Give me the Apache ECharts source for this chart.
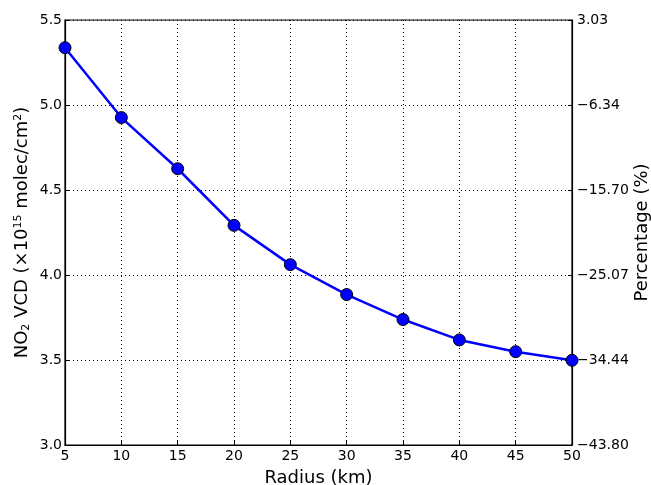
<!DOCTYPE html>
<html>
<head>
<meta charset="utf-8">
<script src="https://cdn.jsdelivr.net/npm/echarts@6/dist/echarts.min.js"></script>
<style>html,body{margin:0;padding:0;background:#fff}#c{width:651px;height:485px}</style>
</head>
<body>
<div id="c"></div>
<script>
const radius = [5, 10, 15, 20, 25, 30, 35, 40, 45, 50];
const vcd = [5.337, 4.926, 4.625, 4.292, 4.061, 3.885, 3.738, 3.618, 3.549, 3.498];
const leftTicks = ['3.0', '3.5', '4.0', '4.5', '5.0', '5.5'];
const rightTicks = ['\u221243.80', '\u221234.44', '\u221225.07', '\u221215.70', '\u22126.34', '3.03'];

const chart = echarts.init(document.getElementById('c'), null, {renderer: 'canvas'});
const font = 'DejaVu Sans';
const yMin = 3.0, yMax = 5.5, yStep = 0.5;
const idx = v => Math.round((v - yMin) / yStep);

chart.setOption({
  animation: false,
  textStyle: {fontFamily: font},
  grid: {left: 65, right: 79, top: 20, bottom: 40, containLabel: false, outerBoundsMode: 'none',
         show: true, borderColor: '#000', borderWidth: 1.2, backgroundColor: 'transparent'},
  xAxis: {
    type: 'value', min: 5, max: 50, interval: 5,
    name: 'Radius (km)', nameLocation: 'middle', nameGap: 24, nameMoveOverlap: false,
    nameTextStyle: {fontSize: 18, color: '#000', fontFamily: font},
    axisLine: {lineStyle: {color: '#000', width: 1.2}},
    axisTick: {inside: true, length: 4, lineStyle: {color: '#000'}},
    axisLabel: {fontSize: 14, color: '#000', margin: 4, fontFamily: font},
    splitLine: {show: true, lineStyle: {color: '#000', type: [1, 3], width: 1}}
  },
  yAxis: [
    {
      type: 'value', min: yMin, max: yMax, interval: yStep, position: 'left',
      name: '{n|NO}{sub|2}{n| VCD (×10}{sup|15}{n| molec/cm}{sup|2}{n|)}',
      nameLocation: 'middle', nameGap: 33, nameRotate: 90, nameMoveOverlap: false,
      nameTextStyle: {
        color: '#000', fontFamily: font,
        rich: {
          n: {fontSize: 18, color: '#000', fontFamily: font},
          sub: {fontSize: 11, color: '#000', fontFamily: font, verticalAlign: 'bottom', padding: [8, 0, 0, 0]},
          sup: {fontSize: 11, color: '#000', fontFamily: font, verticalAlign: 'top', padding: [0, 0, 8, 0]}
        }
      },
      axisLine: {show: true, lineStyle: {color: '#000', width: 1.2}},
      axisTick: {show: true, inside: true, length: 4, lineStyle: {color: '#000'}},
      axisLabel: {fontSize: 14, color: '#000', margin: 3, fontFamily: font, formatter: v => leftTicks[idx(v)]},
      splitLine: {show: true, lineStyle: {color: '#000', type: [1, 3], width: 1}}
    },
    {
      type: 'value', min: yMin, max: yMax, interval: yStep, position: 'right',
      name: 'Percentage (%)', nameLocation: 'middle', nameGap: 61, nameRotate: 90, nameMoveOverlap: false,
      nameTextStyle: {fontSize: 18, color: '#000', fontFamily: font},
      axisLine: {show: true, lineStyle: {color: '#000', width: 1.2}},
      axisTick: {show: true, inside: true, length: 4, lineStyle: {color: '#000'}},
      axisLabel: {fontSize: 14, color: '#000', margin: 5, fontFamily: font, formatter: v => rightTicks[idx(v)]},
      splitLine: {show: false}
    }
  ],
  series: [{
    type: 'line',
    data: radius.map((r, i) => [r, vcd[i]]),
    yAxisIndex: 0,
    symbol: 'circle', symbolSize: 12,
    lineStyle: {color: '#0000ff', width: 2.5},
    itemStyle: {color: '#0000ff', borderColor: '#000', borderWidth: 1},
    z: 5,
    clip: false
  }]
});
</script>
</body>
</html>
